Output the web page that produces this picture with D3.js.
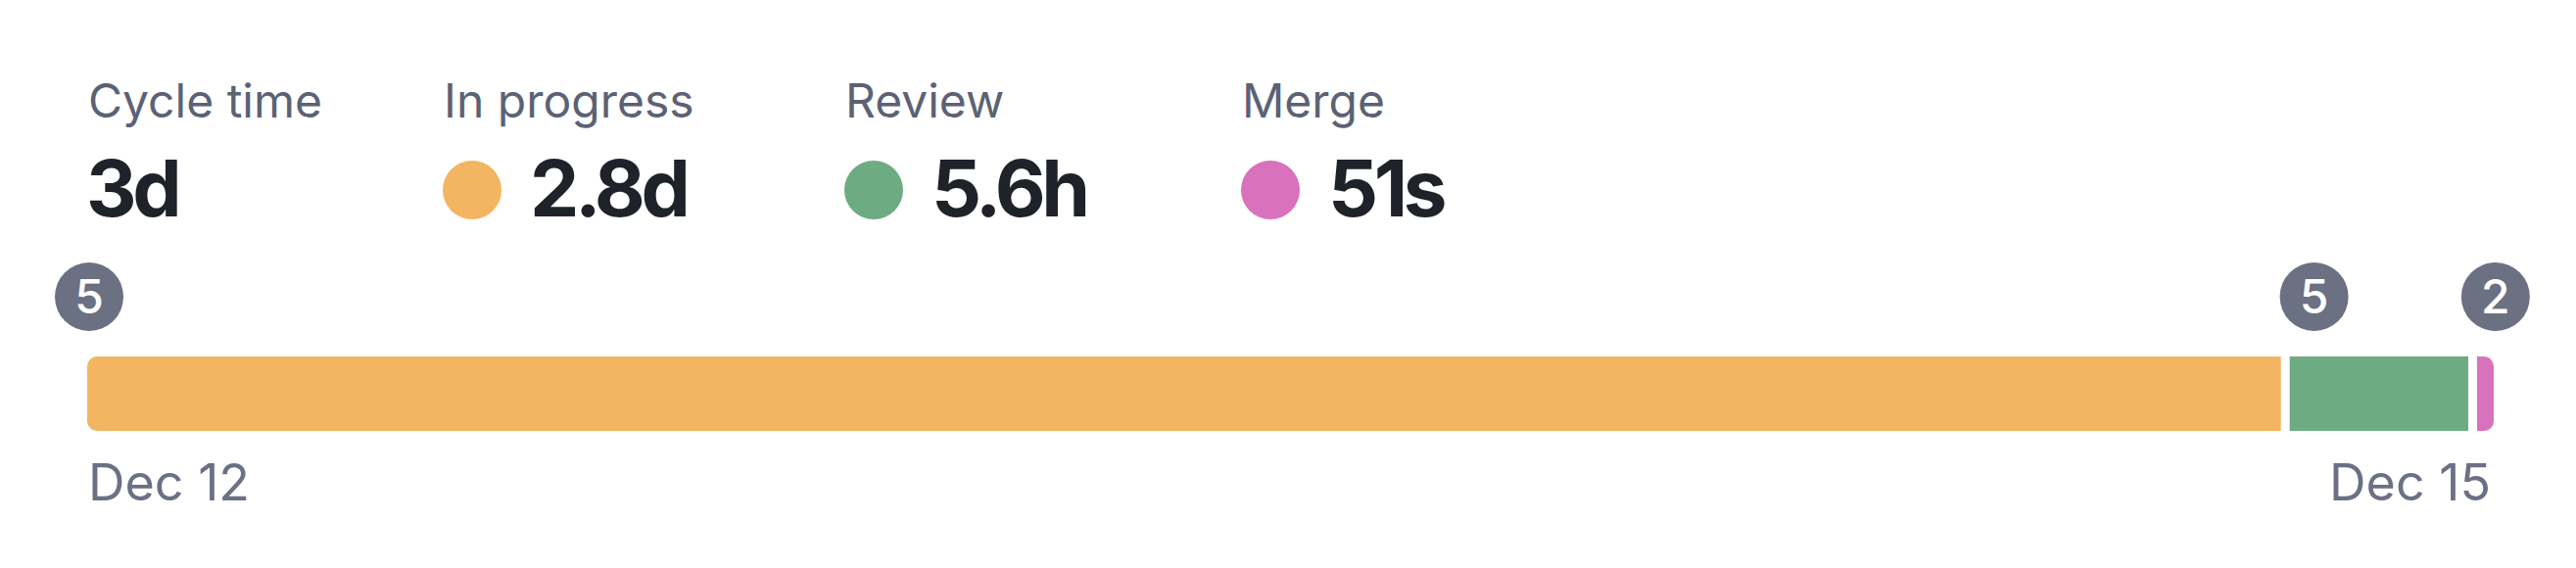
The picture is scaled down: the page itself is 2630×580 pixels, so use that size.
<!DOCTYPE html>
<html>
<head>
<meta charset="utf-8">
<script src="https://cdn.jsdelivr.net/npm/d3@7"></script>
<style>
  html, body { margin: 0; padding: 0; background: #ffffff; }
  svg { display: block; font-family: Inter, "Noto Sans", sans-serif; }
</style>
</head>
<body>
<svg id="chart" width="2630" height="580"></svg>
<script>
// ---- data ----
const summaryLabel = "Cycle time";
const summaryValue = "3d";
const stages = ["In progress", "Review", "Merge"];
const stageHours = [68.3, 5.56, 51 / 3600];       // duration of each stage, in hours
const stageValueLabels = ["2.8d", "5.6h", "51s"];
const stageColors = ["#f3b562", "#6dac82", "#d872bc"];
const markerHours = [0, 68.3, 73.87];              // where the count markers sit
const markerCounts = [5, 5, 2];
const axisLabels = ["Dec 12", "Dec 15"];

// ---- layout ----
const svg = d3.select("#chart");
const barLeft = 89, barRight = 2546, barTop = 364, barH = 76, gap = 9, minW = 17, radius = 10;
const headerX = [90, 453, 863, 1268];
const labelColor = "#5b6275", valueColor = "#1f2229", mutedColor = "#6b7084";

// header stats
const header = svg.append("g");
const groups = [{ label: summaryLabel, value: summaryValue, color: null }]
  .concat(stages.map((s, i) => ({ label: s, value: stageValueLabels[i], color: stageColors[i] })));

groups.forEach((g, i) => {
  const gx = headerX[i];
  header.append("text")
    .attr("x", gx).attr("y", 120)
    .attr("font-size", 48).attr("font-weight", 400)
    .attr("fill", labelColor)
    .text(g.label);
  let vx = gx - 2;
  if (g.color) {
    header.append("circle")
      .attr("cx", gx + 29).attr("cy", 194).attr("r", 30)
      .attr("fill", g.color);
    vx = gx + 88;
  }
  header.append("text")
    .attr("x", vx).attr("y", 221)
    .attr("font-size", 80).attr("font-weight", 700)
    .attr("letter-spacing", -4.5)
    .attr("fill", valueColor)
    .text(g.value);
});

// ---- bar scales ----
const totalHours = d3.sum(stageHours);
const xFull = d3.scaleLinear().domain([0, totalHours]).range([barLeft, barRight]);

// stage widths: scale the non-minimum stages into the space left after gaps and minimum widths
const avail = (barRight - barLeft) - gap * (stageHours.length - 1);
const rawW = stageHours.map(h => (h / totalHours) * avail);
const small = rawW.map(w => w < minW);
const smallTotal = d3.sum(rawW.filter((w, i) => small[i]).map(() => minW));
const bigHours = d3.sum(stageHours.filter((h, i) => !small[i]));
const xStage = d3.scaleLinear().domain([0, bigHours]).range([0, avail - smallTotal]);
let cursor = barLeft;
const segs = stageHours.map((h, i) => {
  const w = small[i] ? minW : xStage(h);
  const s = { x: cursor, w: w, color: stageColors[i] };
  cursor += w + gap;
  return s;
});

const defs = svg.append("defs");
defs.append("clipPath").attr("id", "barClip")
  .append("rect")
  .attr("x", barLeft).attr("y", barTop)
  .attr("width", barRight - barLeft).attr("height", barH)
  .attr("rx", radius).attr("ry", radius);

svg.append("g").attr("clip-path", "url(#barClip)")
  .selectAll("rect").data(segs).join("rect")
  .attr("x", d => d.x).attr("y", barTop)
  .attr("width", d => d.w).attr("height", barH)
  .attr("fill", d => d.color);

// markers
const mk = svg.append("g").selectAll("g")
  .data(markerHours.map((h, i) => ({ h: h, n: markerCounts[i] })))
  .join("g")
  .attr("transform", d => `translate(${xFull(d.h) + 2},303)`);
mk.append("circle").attr("r", 35).attr("fill", "#6b7082");
mk.append("text")
  .attr("text-anchor", "middle").attr("y", 17)
  .attr("font-size", 48).attr("font-weight", 500)
  .attr("fill", "#ffffff")
  .text(d => d.n);

// axis end labels
svg.append("g").selectAll("text").data(axisLabels).join("text")
  .attr("x", (d, i) => i === 0 ? xFull.range()[0] + 1 : xFull.range()[1] - 3)
  .attr("y", 511)
  .attr("text-anchor", (d, i) => i === 0 ? "start" : "end")
  .attr("font-size", 52).attr("font-weight", 400)
  .attr("fill", mutedColor)
  .text(d => d);
</script>
</body>
</html>
